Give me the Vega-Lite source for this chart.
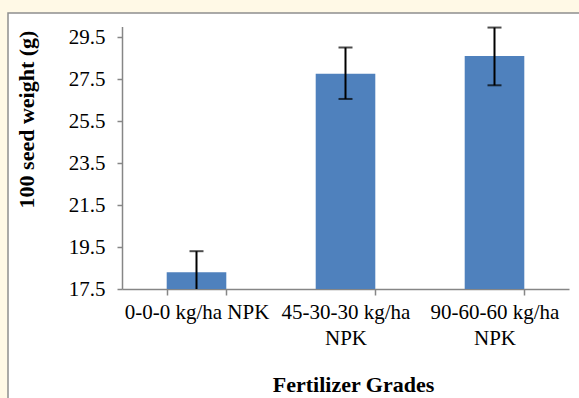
{
  "$schema": "https://vega.github.io/schema/vega-lite/v6.json",
  "width": 572,
  "height": 386,
  "autosize": {"type": "none"},
  "padding": {"left": 8, "top": 13, "right": 0, "bottom": 0},
  "background": "#FFF9E6",
  "config": {
    "view": {"fill": "white", "stroke": "#8f8f8f", "strokeWidth": 1.5},
    "axis": {
      "labelFont": "Liberation Serif",
      "titleFont": "Liberation Serif",
      "labelFontSize": 21,
      "titleFontSize": 22,
      "labelColor": "#000000",
      "titleColor": "#000000",
      "titleFontWeight": "bold",
      "domainColor": "#868686",
      "tickColor": "#868686",
      "domainWidth": 1.5,
      "tickWidth": 1.5,
      "grid": false
    }
  },
  "data": {
    "values": [
      {"grade": "0-0-0 kg/ha NPK", "mean": 18.3, "lo": 17.5, "hi": 19.3},
      {"grade": "45-30-30 kg/ha NPK", "mean": 27.75, "lo": 26.55, "hi": 29.0},
      {"grade": "90-60-60 kg/ha NPK", "mean": 28.6, "lo": 27.2, "hi": 29.95}
    ]
  },
  "layer": [
    {
      "mark": {"type": "bar", "color": "#4F81BD"},
      "encoding": {
        "x": {
          "field": "grade",
          "type": "nominal",
          "sort": null,
          "scale": {"range": [114, 561], "paddingInner": 0.6, "paddingOuter": 0.3},
          "axis": {
            "title": "Fertilizer Grades",
            "offset": -110,
            "labelAngle": 0,
            "tickBand": "extent",
            "tickSize": 6,
            "labelPadding": 6,
            "labelLineHeight": 26,
            "labelLimit": 300,
            "labelExpr": "!datum.value ? '' : (datum.value == '0-0-0 kg/ha NPK' ? datum.value : [replace(datum.value, ' NPK', ''), 'NPK'])",
            "titlePadding": 26,
            "titleX": 345
          }
        },
        "y": {
          "field": "mean",
          "type": "quantitative",
          "scale": {"domain": [17.5, 30], "range": [276, 13.5], "zero": false, "nice": false},
          "axis": {
            "title": "100 seed weight (g)",
            "offset": -114,
            "values": [17.5, 19.5, 21.5, 23.5, 25.5, 27.5, 29.5],
            "format": ".1f",
            "tickSize": 5,
            "labelPadding": 12,
            "titleX": -96,
            "titleY": 106,
            "titleBaseline": "middle",
            "titleAlign": "center",
            "titleAngle": -90
          }
        },
        "y2": {"datum": 17.5}
      }
    },
    {
      "mark": {"type": "rule", "color": "black", "strokeWidth": 2},
      "encoding": {
        "x": {"field": "grade", "type": "nominal", "sort": null},
        "y": {"field": "lo", "type": "quantitative"},
        "y2": {"field": "hi"}
      }
    },
    {
      "mark": {"type": "tick", "color": "black", "thickness": 2, "size": 14},
      "encoding": {
        "x": {"field": "grade", "type": "nominal", "sort": null},
        "y": {"field": "hi", "type": "quantitative"}
      }
    },
    {
      "transform": [{"filter": "datum.lo > 17.5"}],
      "mark": {"type": "tick", "color": "black", "thickness": 2, "size": 14},
      "encoding": {
        "x": {"field": "grade", "type": "nominal", "sort": null},
        "y": {"field": "lo", "type": "quantitative"}
      }
    }
  ]
}
